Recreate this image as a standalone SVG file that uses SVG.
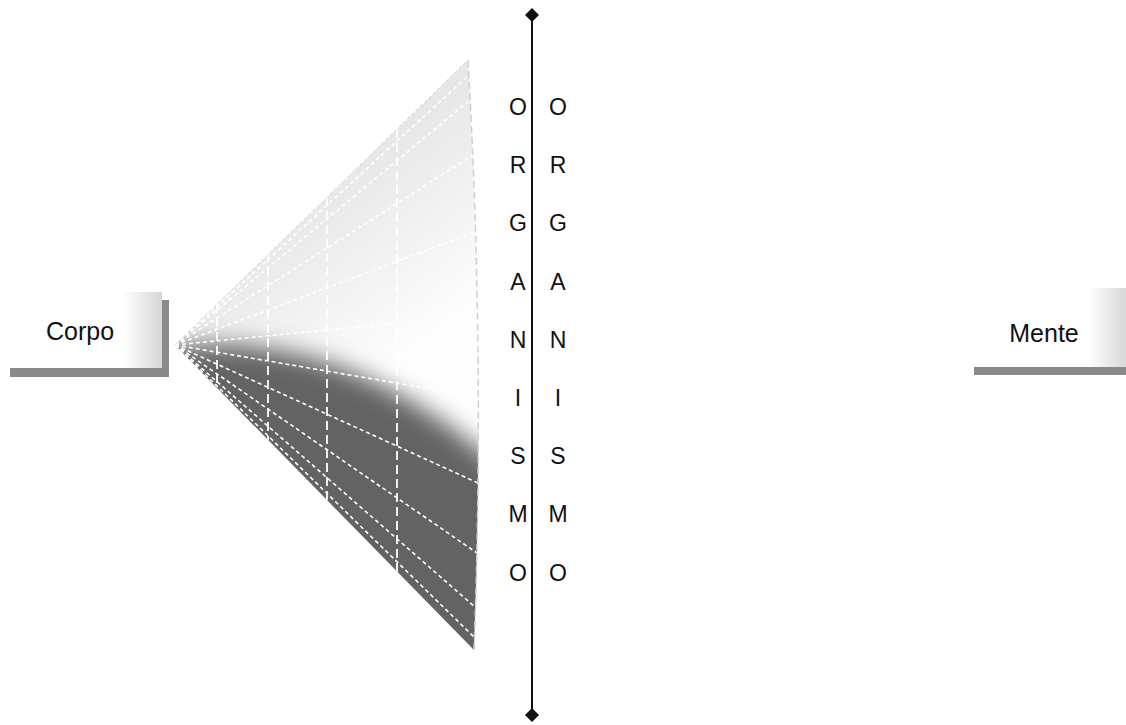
<svg xmlns="http://www.w3.org/2000/svg" width="1126" height="725" viewBox="0 0 1126 725">
  <style>
    .lbl { font-family: "Liberation Sans", Arial, sans-serif; font-size: 25px; fill: #111; }
    .ltr { font-family: "Liberation Sans", Arial, sans-serif; font-size: 23px; fill: #111; text-anchor: middle; }
    .shadow { fill: #8a8a8a; }
    .ray { fill: none; stroke: #ffffff; stroke-width: 1.6; stroke-dasharray: 4 3; }
    .vert { fill: none; stroke: #ffffff; stroke-width: 2; stroke-dasharray: 9 5; opacity: 0.9; }
  </style>
  <defs>
    <linearGradient id="tabGrad" x1="0" y1="0" x2="1" y2="0">
      <stop offset="0" stop-color="#ffffff"/>
      <stop offset="1" stop-color="#d6d6d6"/>
    </linearGradient>
    <linearGradient id="upperGrad" gradientUnits="userSpaceOnUse" x1="330" y1="170" x2="450" y2="330">
      <stop offset="0" stop-color="#e6e6e6"/>
      <stop offset="1" stop-color="#fefefe"/>
    </linearGradient>
    <radialGradient id="glow" cx="0.5" cy="0.5" r="0.5">
      <stop offset="0" stop-color="#ffffff" stop-opacity="0.9"/>
      <stop offset="1" stop-color="#ffffff" stop-opacity="0"/>
    </radialGradient>
    <clipPath id="coneClip">
      <path d="M175,345 L468,60 Q485,355 474,650 Z"/>
    </clipPath>
    <filter id="blur" x="-20%" y="-20%" width="140%" height="140%">
      <feGaussianBlur stdDeviation="12"/>
    </filter>
    <marker id="diamond" markerWidth="14" markerHeight="14" refX="7" refY="7" markerUnits="userSpaceOnUse" orient="auto">
      <path d="M7,0 L14,7 L7,14 L0,7 Z" fill="#111"/>
    </marker>
  </defs>

  <rect width="1126" height="725" fill="#ffffff"/>

  <g id="corpo">
    <rect class="shadow" x="162" y="300" width="7" height="77"/>
    <rect class="shadow" x="10" y="368" width="159" height="9"/>
    <rect x="10" y="292" width="152" height="76" fill="#ffffff"/>
    <rect x="123" y="292" width="39" height="76" fill="url(#tabGrad)"/>
    <text class="lbl" x="80" y="340" text-anchor="middle">Corpo</text>
  </g>

  <g id="mente">
    <rect class="shadow" x="974" y="367" width="152" height="8"/>
    <rect x="974" y="288" width="152" height="79" fill="#ffffff"/>
    <rect x="1088" y="288" width="40" height="79" fill="url(#tabGrad)"/>
    <text class="lbl" x="1044" y="342" text-anchor="middle">Mente</text>
  </g>

  <g id="cone">
    <g clip-path="url(#coneClip)">
      <rect x="160" y="50" width="340" height="620" fill="url(#upperGrad)"/>
      <path d="M140,350 C260,332 380,352 520,485 L520,720 L140,720 Z" fill="#636363" filter="url(#blur)"/>
      <ellipse cx="492" cy="360" rx="55" ry="75" fill="url(#glow)"/>
      <g id="grid">
        <line class="vert" x1="217" y1="304" x2="217" y2="388"/>
        <line class="vert" x1="268" y1="254" x2="268" y2="440"/>
        <line class="vert" x1="327" y1="197" x2="327" y2="500"/>
        <line class="vert" x1="397" y1="129" x2="397" y2="572"/>
        <line class="ray" x1="175" y1="345" x2="469" y2="75"/>
        <line class="ray" x1="175" y1="345" x2="470" y2="100"/>
        <line class="ray" x1="175" y1="345" x2="473" y2="155"/>
        <line class="ray" x1="175" y1="345" x2="475" y2="232"/>
        <line class="ray" x1="175" y1="345" x2="477" y2="315"/>
        <line class="ray" x1="175" y1="345" x2="478" y2="397"/>
        <line class="ray" x1="175" y1="345" x2="478" y2="483"/>
        <line class="ray" x1="175" y1="345" x2="477" y2="553"/>
        <line class="ray" x1="175" y1="345" x2="475" y2="607"/>
        <line class="ray" x1="175" y1="345" x2="474" y2="637"/>
      </g>
    </g>
    <path d="M468,60 Q485,355 474,650" fill="none" stroke="#cfcfcf" stroke-width="1.5" stroke-dasharray="7 4"/>
    <line x1="175" y1="345" x2="468" y2="60" stroke="#d4d4d4" stroke-width="1" stroke-dasharray="3 3"/>
  </g>

  <g id="connectors">
    <line id="axis" x1="532" y1="15" x2="532" y2="715" stroke="#111" stroke-width="2" marker-start="url(#diamond)" marker-end="url(#diamond)"/>
  </g>

  <g id="labels-left">
    <text class="ltr" x="518" y="115">O</text>
    <text class="ltr" x="518" y="173">R</text>
    <text class="ltr" x="518" y="231">G</text>
    <text class="ltr" x="518" y="290">A</text>
    <text class="ltr" x="518" y="348">N</text>
    <text class="ltr" x="518" y="406">I</text>
    <text class="ltr" x="518" y="464">S</text>
    <text class="ltr" x="518" y="522">M</text>
    <text class="ltr" x="518" y="581">O</text>
  </g>
  <g id="labels-right">
    <text class="ltr" x="558" y="115">O</text>
    <text class="ltr" x="558" y="173">R</text>
    <text class="ltr" x="558" y="231">G</text>
    <text class="ltr" x="558" y="290">A</text>
    <text class="ltr" x="558" y="348">N</text>
    <text class="ltr" x="558" y="406">I</text>
    <text class="ltr" x="558" y="464">S</text>
    <text class="ltr" x="558" y="522">M</text>
    <text class="ltr" x="558" y="581">O</text>
  </g>
</svg>
